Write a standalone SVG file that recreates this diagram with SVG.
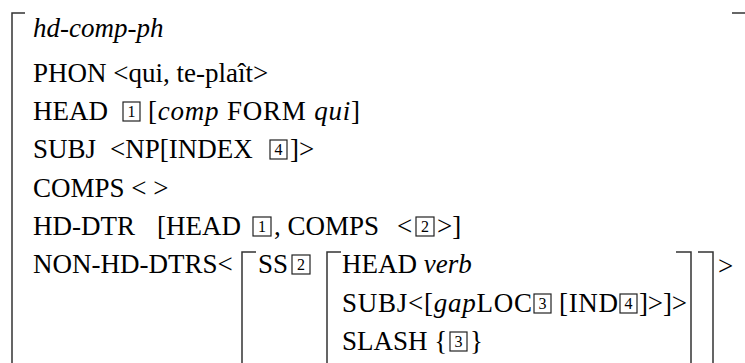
<svg xmlns="http://www.w3.org/2000/svg" width="745" height="363" viewBox="0 0 745 363">
<style>
.t{font-family:"Liberation Serif","Times New Roman",serif;font-size:27px;fill:#000}
.i{font-style:italic}
.num{font-family:"Liberation Serif","Times New Roman",serif;font-size:16px;fill:#000;text-anchor:middle}
.box{fill:none;stroke:#222;stroke-width:1.2}
.br{fill:none;stroke:#333;stroke-width:1.5}
</style>
<rect width="745" height="363" fill="#fff"/>
<g id="brackets">
<path class="br" d="M25,13 H12 V363"/>
<path class="br" d="M732,13 H745"/>
<path class="br" d="M256,252 H242 V363"/>
<path class="br" d="M341,252 H327 V363"/>
<path class="br" d="M676,252 H691 V363"/>
<path class="br" d="M698,252 H713 V363"/>
</g>
<g id="type"><text class="t i" x="33" y="37">hd-comp-ph</text></g>
<g id="phon"><text class="t" x="33" y="82">PHON &lt;qui, te-plaît&gt;</text></g>
<g id="head">
<text class="t" x="33" y="120">HEAD</text>
<rect class="box" x="123" y="102" width="17" height="19"/><text class="num" x="131.5" y="117">1</text>
<text class="t" x="148" y="120" textLength="212" lengthAdjust="spacing">[<tspan class="i">comp</tspan> FORM <tspan class="i">qui</tspan>]</text>
</g>
<g id="subj">
<text class="t" x="33" y="158">SUBJ</text>
<text class="t" x="110" y="158">&lt;NP[INDEX</text>
<rect class="box" x="270" y="140" width="17" height="19"/><text class="num" x="278.5" y="155">4</text>
<text class="t" x="290" y="158">]&gt;</text>
</g>
<g id="comps"><text class="t" x="33" y="197">COMPS &lt; &gt;</text></g>
<g id="hddtr">
<text class="t" x="33" y="235">HD-DTR</text>
<text class="t" x="157" y="235">[HEAD</text>
<rect class="box" x="253" y="217" width="18" height="19"/><text class="num" x="262" y="232">1</text>
<text class="t" x="274" y="235">, COMPS</text>
<text class="t" x="397" y="235">&lt;</text>
<rect class="box" x="416" y="217" width="18" height="19"/><text class="num" x="425" y="232">2</text>
<text class="t" x="437" y="235">&gt;]</text>
</g>
<g id="nonhd">
<text class="t" x="33" y="273">NON-HD-DTRS&lt;</text>
<text class="t" x="258" y="273">SS</text>
<rect class="box" x="292" y="255" width="18" height="19"/><text class="num" x="301" y="270">2</text>
<text class="t" x="342" y="273">HEAD <tspan class="i">verb</tspan></text>
<text class="t" x="342" y="312" textLength="190" lengthAdjust="spacing">SUBJ&lt;[<tspan class="i">gap</tspan>LOC</text>
<rect class="box" x="534" y="294" width="17" height="19"/><text class="num" x="542.5" y="309">3</text>
<text class="t" x="559" y="312" textLength="59" lengthAdjust="spacing">[IND</text>
<rect class="box" x="620" y="294" width="17" height="19"/><text class="num" x="628.5" y="309">4</text>
<text class="t" x="639" y="312" textLength="48" lengthAdjust="spacing">]&gt;]&gt;</text>
<text class="t" x="342" y="350">SLASH {</text>
<rect class="box" x="450" y="332" width="17" height="19"/><text class="num" x="458.5" y="347">3</text>
<text class="t" x="470" y="350">}</text>
<text class="t" x="718" y="275">&gt;</text>
</g>
</svg>
